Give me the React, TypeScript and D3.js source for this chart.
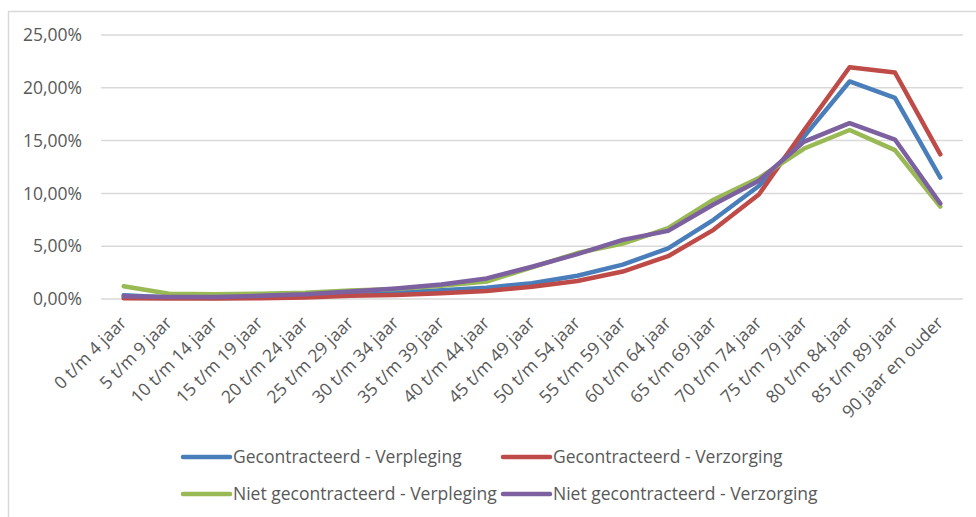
import React from "react";
import * as d3 from "d3";

const categories = [
  "0 t/m 4 jaar", "5 t/m 9 jaar", "10 t/m 14 jaar", "15 t/m 19 jaar", "20 t/m 24 jaar",
  "25 t/m 29 jaar", "30 t/m 34 jaar", "35 t/m 39 jaar", "40 t/m 44 jaar", "45 t/m 49 jaar",
  "50 t/m 54 jaar", "55 t/m 59 jaar", "60 t/m 64 jaar", "65 t/m 69 jaar", "70 t/m 74 jaar",
  "75 t/m 79 jaar", "80 t/m 84 jaar", "85 t/m 89 jaar", "90 jaar en ouder",
];

const gecontracteerdVerpleging = [0.35, 0.15, 0.1, 0.15, 0.25, 0.45, 0.6, 0.82, 1.07, 1.5, 2.2, 3.25, 4.8, 7.5, 10.7, 15.4, 20.6, 19.05, 11.5];
const gecontracteerdVerzorging = [0.08, 0.05, 0.05, 0.08, 0.15, 0.3, 0.38, 0.54, 0.76, 1.15, 1.7, 2.6, 4.05, 6.55, 9.9, 16.0, 21.95, 21.45, 13.7];
const nietGecontracteerdVerpleging = [1.2, 0.5, 0.45, 0.5, 0.6, 0.8, 0.95, 1.25, 1.65, 3.0, 4.35, 5.25, 6.7, 9.4, 11.45, 14.25, 16.0, 14.1, 8.75];
const nietGecontracteerdVerzorging = [0.25, 0.2, 0.2, 0.3, 0.45, 0.7, 1.0, 1.38, 1.95, 3.05, 4.25, 5.6, 6.45, 8.95, 11.2, 14.9, 16.65, 15.1, 9.05];

const seriesNames = [
  "Gecontracteerd - Verpleging",
  "Gecontracteerd - Verzorging",
  "Niet gecontracteerd - Verpleging",
  "Niet gecontracteerd - Verzorging",
];
const seriesColors = ["#4A7EBB", "#BE4B48", "#98B954", "#7D60A0"];
const seriesValues = [
  gecontracteerdVerpleging,
  gecontracteerdVerzorging,
  nietGecontracteerdVerpleging,
  nietGecontracteerdVerzorging,
];

const yTicks = [0, 5, 10, 15, 20, 25];

const FONT = "'Open Sans', sans-serif";
const TEXT = "#595959";

export default function App() {
  const W = 976;
  const H = 517;
  const x = d3.scalePoint<string>().domain(categories).range([101, 963]).padding(0.5);
  const y = d3.scaleLinear().domain([0, 25]).range([299, 35]);
  const line = d3
    .line<number>()
    .x((_, i) => x(categories[i]) as number)
    .y((d) => y(d));
  const fmt = (v: number) => v.toFixed(2).replace(".", ",") + "%";

  const legendPos = [
    { lx: 183, ty: 457 },
    { lx: 503, ty: 457 },
    { lx: 183, ty: 494 },
    { lx: 503, ty: 494 },
  ];

  return (
    <svg
      width={W}
      height={H}
      style={{ position: "absolute", left: 0, top: 0, background: "#fff" }}
      fontFamily={FONT}
    >
      <rect x={0} y={0} width={W} height={H} fill="#fff" />
      <rect x={8.5} y={11.5} width={1200} height={800} fill="none" stroke="#D9D9D9" strokeWidth={1.5} />
      {yTicks.map((t) => (
        <g key={t}>
          <line x1={101} x2={963} y1={y(t)} y2={y(t)} stroke="#D9D9D9" strokeWidth={1.5} />
          <text x={82} y={y(t)} dy="0.35em" textAnchor="end" fontSize={17.5} fill={TEXT}>
            {fmt(t)}
          </text>
        </g>
      ))}
      {categories.map((c) => (
        <text
          key={c}
          transform={`translate(${(x(c) as number) + 4},${324}) rotate(-45)`}
          textAnchor="end"
          fontSize={17.5}
          fill={TEXT}
        >
          {c}
        </text>
      ))}
      {seriesValues.map((vals, i) => (
        <path
          key={i}
          d={line(vals) as string}
          fill="none"
          stroke={seriesColors[i]}
          strokeWidth={4.5}
          strokeLinejoin="round"
          strokeLinecap="round"
        />
      ))}
      {seriesNames.map((n, i) => (
        <g key={n}>
          <line
            x1={legendPos[i].lx}
            x2={legendPos[i].lx + 47}
            y1={legendPos[i].ty}
            y2={legendPos[i].ty}
            stroke={seriesColors[i]}
            strokeWidth={4.5}
            strokeLinecap="round"
          />
          <text x={legendPos[i].lx + 50} y={legendPos[i].ty} dy="0.35em" fontSize={17.5} fill={TEXT}>
            {n}
          </text>
        </g>
      ))}
    </svg>
  );
}
